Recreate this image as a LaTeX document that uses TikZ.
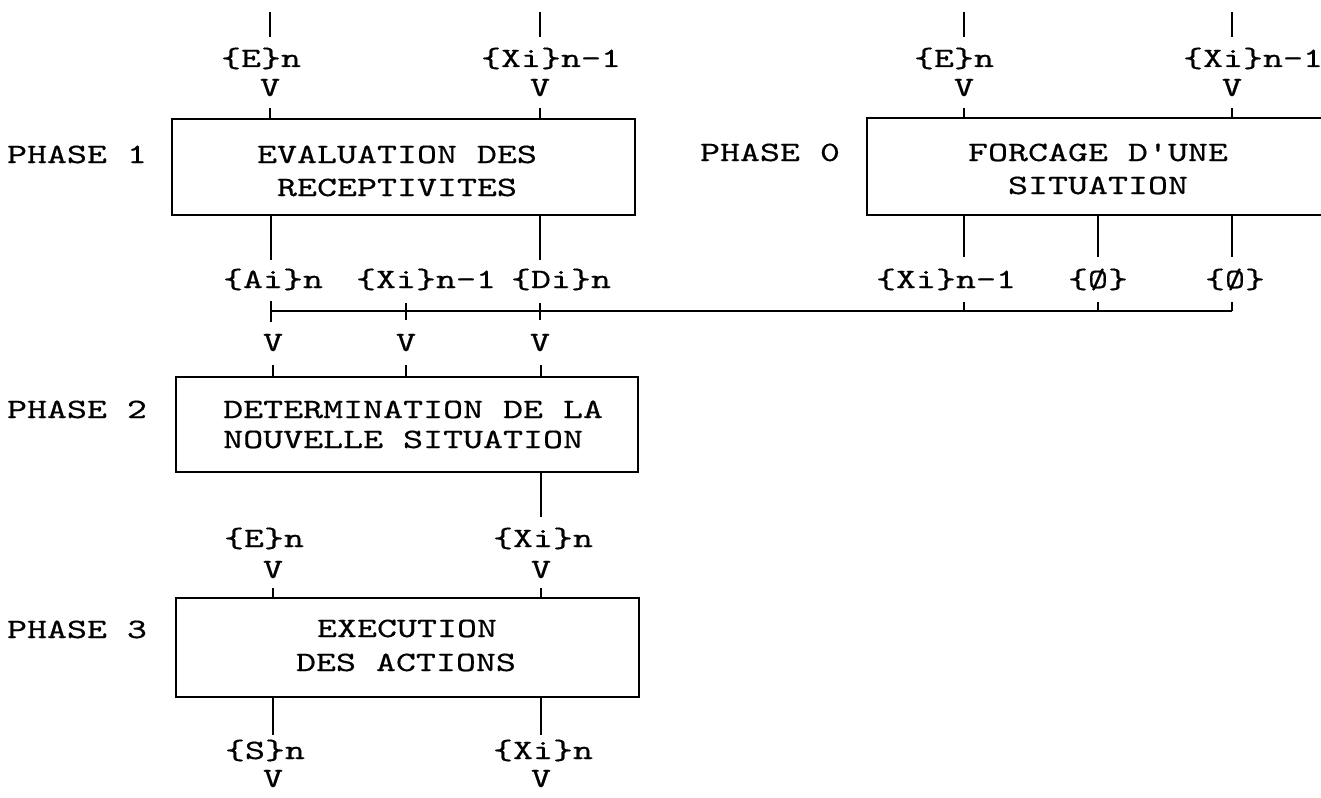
\documentclass[tikz,border=0pt]{standalone}
\usepackage{fontspec}
\newfontfamily\tw{lmmono10-regular.otf}[FakeStretch=1.36,FakeBold=0.5]
\begin{document}
\begin{tikzpicture}[x=1pt,y=-1pt,
  txt/.style={font=\tw\fontsize{28}{33}\selectfont, inner sep=0pt, anchor=base},
  boxshape/.style={draw, line width=2pt, rectangle, inner sep=0pt},
  wire/.style={line width=1.8pt}]
\path[use as bounding box] (0,0) rectangle (1321,797);
\clip (0,0) rectangle (1321,797);
\fill[white] (0,0) rectangle (1321,797);

% ---------------- PHASE 1 ----------------
\node[boxshape, minimum width=463pt, minimum height=96pt] (b1) at (403.5,167) {};
\node[txt] (p1) at (77,163) {PHASE 1};
\node[txt] (b1l1) at (397,163) {EVALUATION DES};
\node[txt] (b1l2) at (397,196) {RECEPTIVITES};
% inputs
\coordinate (i1a) at (270,12);
\coordinate (i1b) at (540,12);
\node[txt] (e1) at (261,67) {\{E\}n};
\node[txt] (x1) at (551,67) {\{Xi\}n-1};
\node[txt] (v1a) at (270,96) {V};
\node[txt] (v1b) at (540,96) {V};
\draw[wire] (i1a) -- (270,37);
\draw[wire] (i1b) -- (540,37);
\draw[wire] (270,108) -- (270,0 |- b1.north);
\draw[wire] (540,108) -- (540,0 |- b1.north);
% outputs
\draw[wire] (271,0 |- b1.south) -- (271,260);
\draw[wire] (540,0 |- b1.south) -- (540,260);
\node[txt] (ai) at (273,288) {\{Ai\}n};
\node[txt] (xm) at (426,288) {\{Xi\}n-1};
\node[txt] (di) at (561,288) {\{Di\}n};

% ---------------- PHASE 0 ----------------
\node[txt] (p0) at (770,161) {PHASE 0};
\draw[line width=2pt] (1330,118) -- (867,118) -- (867,215) -- (1330,215);
\coordinate (b0nw) at (867,118);
\node[txt] (b0l1) at (1098,161) {FORCAGE D'UNE};
\node[txt] (b0l2) at (1098,194) {SITUATION};
\coordinate (i0a) at (964,12);
\coordinate (i0b) at (1232,12);
\node[txt] (e0) at (954,67) {\{E\}n};
\node[txt] (x0) at (1253,67) {\{Xi\}n-1};
\node[txt] (v0a) at (964,96) {V};
\node[txt] (v0b) at (1232,96) {V};
\draw[wire] (i0a) -- (964,37);
\draw[wire] (i0b) -- (1232,37);
\draw[wire] (964,108) -- (964,118);
\draw[wire] (1232,108) -- (1232,118);
\draw[wire] (964,215) -- (964,257);
\draw[wire] (1098,215) -- (1098,257);
\draw[wire] (1232,215) -- (1232,257);
\node[txt] (x0o) at (946,288) {\{Xi\}n-1};
\node[txt] (z1) at (1098,288) {\{Ø\}};
\node[txt] (z2) at (1235,288) {\{Ø\}};

% ---------------- bus ----------------
\coordinate (busL) at (271,311);
\coordinate (busR) at (1232,311);
\draw[wire] (busL) -- (busR);
\draw[wire] (271,301) -- (271,322);
\draw[wire] (406,303) -- (406,320);
\draw[wire] (540,303) -- (540,320);
\draw[wire] (964,302) -- (964,311);
\draw[wire] (1098,302) -- (1098,311);
\draw[wire] (1232,302) -- (busR);
\node[txt] (v2a) at (273,351) {V};
\node[txt] (v2b) at (406,351) {V};
\node[txt] (v2c) at (540,351) {V};

% ---------------- PHASE 2 ----------------
\node[boxshape, minimum width=462pt, minimum height=95pt] (b2) at (407,424.5) {};
\node[txt] (p2) at (77,418) {PHASE 2};
\node[txt, anchor=base west] (b2l1) at (223,418) {DETERMINATION DE LA};
\node[txt, anchor=base west] (b2l2) at (223,448) {NOUVELLE SITUATION};
\draw[wire] (273,365) -- (273,0 |- b2.north);
\draw[wire] (406,365) -- (406,0 |- b2.north);
\draw[wire] (541,365) -- (541,0 |- b2.north);
\draw[wire] (541,0 |- b2.south) -- (541,517);
\node[txt] (e3) at (264,547) {\{E\}n};
\node[txt] (x3) at (543,547) {\{Xi\}n};
\node[txt] (v3a) at (273,578) {V};
\node[txt] (v3b) at (541,578) {V};

% ---------------- PHASE 3 ----------------
\node[boxshape, minimum width=463pt, minimum height=99pt] (b3) at (407.5,647.5) {};
\node[txt] (p3) at (77,638) {PHASE 3};
\node[txt] (b3l1) at (407,637) {EXECUTION};
\node[txt] (b3l2) at (406,671) {DES ACTIONS};
\draw[wire] (273,588) -- (273,0 |- b3.north);
\draw[wire] (541,588) -- (541,0 |- b3.north);
\draw[wire] (273,0 |- b3.south) -- (273,735);
\draw[wire] (541,0 |- b3.south) -- (541,735);
\node[txt] (s4) at (265,759) {\{S\}n};
\node[txt] (x4) at (543,759) {\{Xi\}n};
\node[txt] (v4a) at (273,787) {V};
\node[txt] (v4b) at (541,787) {V};
\end{tikzpicture}
\end{document}
